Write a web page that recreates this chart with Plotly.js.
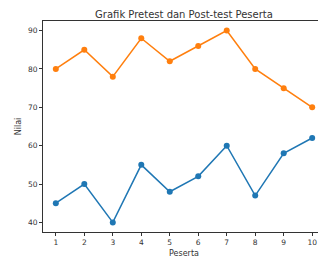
<!DOCTYPE html>
<html><head><meta charset="utf-8">
<script src="https://cdn.plot.ly/plotly-3.0.1.min.js"></script>
<style>html,body{margin:0;padding:0;background:#fff;overflow:hidden}#c{width:332px;height:258px}</style>
</head><body><div id="c"></div>
<script>
const peserta = [1,2,3,4,5,6,7,8,9,10];
const pretest = [45,50,40,55,48,52,60,47,58,62];
const posttest = [80,85,78,88,82,86,90,80,75,70];
const xTicks = [1,2,3,4,5,6,7,8,9,10];
const yTicks = [40,50,60,70,80,90];

const traces = [
  {x: peserta, y: pretest, name: 'Pretest', mode: 'lines+markers',
   line: {color: '#1f77b4', width: 1.5}, marker: {color: '#1f77b4', size: 6}},
  {x: peserta, y: posttest, name: 'Post-test', mode: 'lines+markers',
   line: {color: '#ff7f0e', width: 1.5}, marker: {color: '#ff7f0e', size: 6}}
];
const axisBase = {showline: true, linecolor: '#333', linewidth: 1, mirror: true,
  ticks: 'outside', ticklen: 3, tickcolor: '#333', showgrid: false, zeroline: false,
  tickfont: {family: 'DejaVu Sans', size: 7.5, color: '#333'}};
const layout = {
  width: 332, height: 258,
  margin: {l: 43, r: 7, t: 21, b: 26},
  paper_bgcolor: '#fff', plot_bgcolor: '#fff', showlegend: false,
  title: {text: 'Grafik Pretest dan Post-test Peserta', x: 0.5, xref: 'paper', xanchor: 'center',
          y: 0.945, yanchor: 'middle', font: {family: 'DejaVu Sans', size: 10, color: '#333'}},
  xaxis: Object.assign({}, axisBase, {range: [0.55, 10.45], tickvals: xTicks,
    title: {text: 'Peserta', standoff: 4, font: {family: 'DejaVu Sans', size: 8, color: '#333'}}}),
  yaxis: Object.assign({}, axisBase, {range: [37.5, 92.5], tickvals: yTicks,
    title: {text: 'Nilai', standoff: 5, font: {family: 'DejaVu Sans', size: 8, color: '#333'}}})
};
Plotly.newPlot('c', traces, layout, {displayModeBar: false, staticPlot: true});
</script></body></html>
